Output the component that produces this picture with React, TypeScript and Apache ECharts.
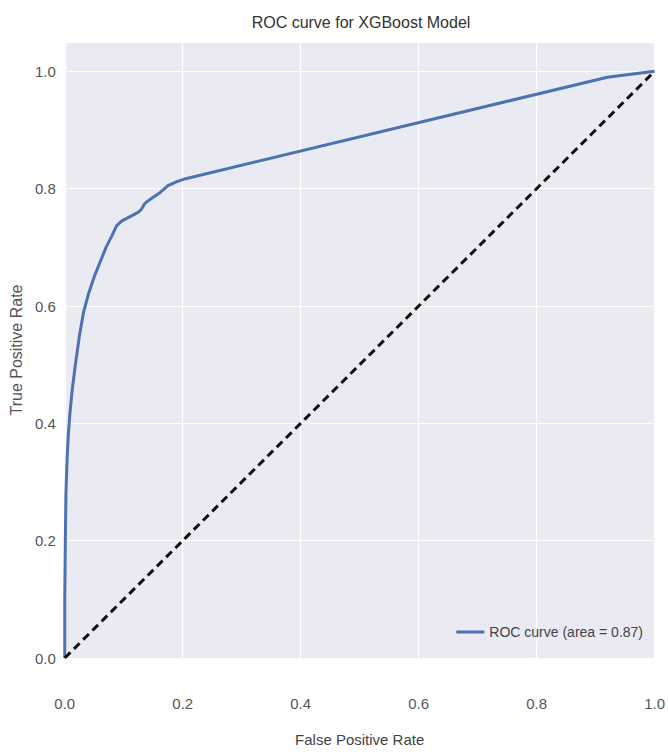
import React, { useEffect, useRef } from "react";
import * as echarts from "echarts";

const fpr = [0, 0.0, 0.001, 0.002, 0.004, 0.006, 0.009, 0.013, 0.018, 0.025, 0.032, 0.04, 0.05, 0.06, 0.07, 0.08, 0.088, 0.097, 0.11, 0.125, 0.13, 0.136, 0.145, 0.16, 0.175, 0.19, 0.205, 0.92, 1.0];
const tpr = [0, 0.1, 0.2, 0.28, 0.34, 0.38, 0.42, 0.46, 0.5, 0.55, 0.59, 0.62, 0.65, 0.675, 0.7, 0.72, 0.737, 0.745, 0.752, 0.76, 0.765, 0.775, 0.782, 0.792, 0.805, 0.812, 0.817, 0.99, 1.0];
const chanceX = [0, 1];
const chanceY = [0, 1];
const rocLabel = "ROC curve (area = 0.87)";
const title = "ROC curve for XGBoost Model";
const xName = "False Positive Rate";
const yName = "True Positive Rate";

const NARROW = "'Liberation Sans Narrow', 'Liberation Sans', Arial, sans-serif";

export default function App() {
  const ref = useRef<HTMLDivElement>(null);
  useEffect(() => {
    if (!ref.current) return;
    const chart = echarts.init(ref.current, undefined, { renderer: "svg" });
    const fmt = (v: number) => (Math.abs(v - 1.05) < 1e-6 ? "" : v.toFixed(1));
    chart.setOption({
      animation: false,
      backgroundColor: "#ffffff",
      title: {
        text: title,
        left: 356,
        textAlign: "center",
        top: 9,
        textStyle: { fontFamily: NARROW, fontSize: 16, fontWeight: "normal", color: "#333333" },
      },
      grid: {
        left: 62,
        right: 11,
        top: 42,
        bottom: 97,
        show: true,
        backgroundColor: "#EAEAF2",
        borderWidth: 0,
      },
      legend: {
        data: [rocLabel],
        right: 20,
        top: 620,
        icon: "rect",
        itemWidth: 28,
        itemHeight: 3,
        itemGap: 8,
        textStyle: { fontFamily: NARROW, fontSize: 14, color: "#444444" },
      },
      xAxis: {
        type: "value",
        min: 0,
        max: 1,
        interval: 0.2,
        name: xName,
        nameLocation: "middle",
        nameGap: 74,
        nameTextStyle: { fontFamily: NARROW, fontSize: 15, color: "#444444" },
        axisLine: { show: false },
        axisTick: { show: false },
        axisLabel: { formatter: fmt, margin: 38, fontFamily: NARROW, fontSize: 15, color: "#555555" },
        splitLine: { show: true, lineStyle: { color: "#ffffff", width: 1.2 } },
      },
      yAxis: {
        type: "value",
        min: 0,
        max: 1.05,
        interval: 0.2,
        name: yName,
        nameLocation: "middle",
        nameGap: 39,
        nameTextStyle: { fontFamily: "'Liberation Sans', Arial, sans-serif", fontSize: 16, color: "#555555" },
        axisLine: { show: false },
        axisTick: { show: false },
        axisLabel: { formatter: fmt, margin: 9, fontFamily: NARROW, fontSize: 15, color: "#555555" },
        splitLine: { show: true, lineStyle: { color: "#ffffff", width: 1.2 } },
      },
      series: [
        {
          name: rocLabel,
          type: "line",
          data: fpr.map((x, i) => [x, tpr[i]]),
          showSymbol: false,
          symbol: "none",
          lineStyle: { color: "#4C72B0", width: 3 },
          itemStyle: { color: "#4C72B0" },
          z: 3,
        },
        {
          name: "chance",
          type: "line",
          data: chanceX.map((x, i) => [x, chanceY[i]]),
          showSymbol: false,
          symbol: "none",
          lineStyle: { color: "#111111", width: 3, type: [8, 5] },
          z: 4,
        },
      ],
    });
    return () => chart.dispose();
  }, []);
  return <div ref={ref} style={{ width: 668, height: 755, position: "absolute", left: 0, top: 0 }} />;
}
